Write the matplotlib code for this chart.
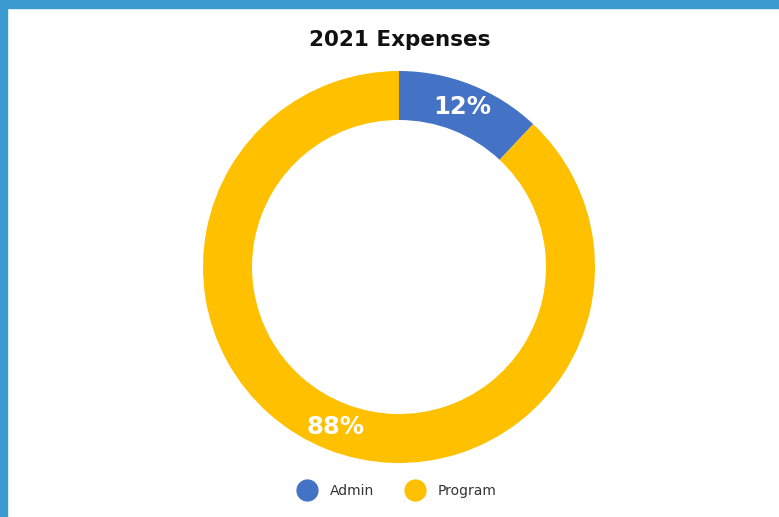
import matplotlib
matplotlib.use("Agg")
import matplotlib.pyplot as plt
from matplotlib.lines import Line2D
from matplotlib.patches import Rectangle

categories = ["Admin", "Program"]
values = [12, 88]
colors = ["#4472c4", "#ffc000"]
title = "2021 Expenses"

W, H = 779, 517
fig = plt.figure(figsize=(W / 100, H / 100), dpi=100)
fig.patch.set_facecolor("white")

# border (top and left)
fig.patches.append(Rectangle((0, 1 - 8 / H), 1, 8 / H, transform=fig.transFigure,
                             color="#3b9bd0", zorder=0))
fig.patches.append(Rectangle((0, 0), 7 / W, 1, transform=fig.transFigure,
                             color="#3b9bd0", zorder=0))

cx, cy, R = 399, 267, 196
ax = fig.add_axes([(cx - R) / W, 1 - (cy + R) / H, 2 * R / W, 2 * R / H])
wedges, texts, autotexts = ax.pie(
    values, colors=colors, startangle=90, counterclock=False, radius=1,
    wedgeprops=dict(width=0.25, edgecolor="none"),
    autopct=lambda p: f"{p:.0f}%", pctdistance=0.88,
    textprops=dict(color="white", fontsize=17.5, fontweight="bold"))
ax.set_xlim(-1, 1)
ax.set_ylim(-1, 1)
ax.set_aspect("equal")
ax.axis("off")

fig.text(400 / W, 1 - 40 / H, title, ha="center", va="center",
         fontsize=15.5, fontweight="bold", color="#111111")

handles = [Line2D([], [], marker="o", linestyle="none", markersize=15,
                  markerfacecolor=c, markeredgecolor=c) for c in colors]
fig.legend(handles, categories, loc="center", bbox_to_anchor=(395 / W, 1 - 491 / H),
           ncol=2, frameon=False, fontsize=10, handletextpad=0.6,
           columnspacing=2.0, labelcolor="#333333")

fig.savefig("out.png", dpi=100, facecolor="white")
